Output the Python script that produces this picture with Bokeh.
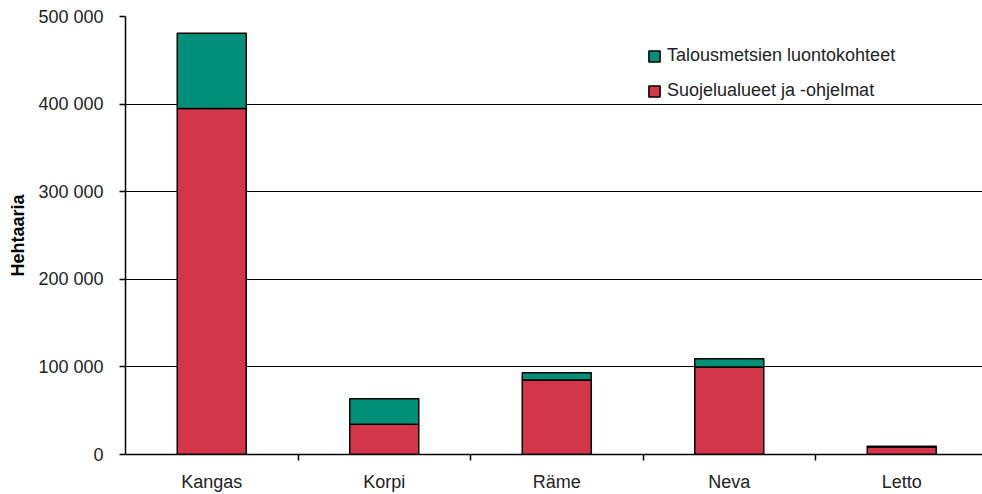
from bokeh.plotting import figure
from bokeh.models import (ColumnDataSource, Range1d, FixedTicker, Legend, LegendItem)
from bokeh.embed import file_html
from bokeh.resources import INLINE

categories = ["Kangas", "Korpi", "Räme", "Neva", "Letto"]
suojelu = [395000, 34600, 85000, 100000, 8500]
talous = [86000, 29000, 8400, 9400, 1000]
y_ticks = [0, 100000, 200000, 300000, 400000, 500000]
y_tick_labels = ["0", "100 000", "200 000", "300 000", "400 000", "500 000"]

series_names = ["Suojelualueet ja -ohjelmat", "Talousmetsien luontokohteet"]
colors = ["#D43649", "#00907A"]

FONT = "Liberation Sans"

x_pos = [i + 0.5 for i in range(len(categories))]
src = ColumnDataSource(dict(x=x_pos, suojelu=suojelu, talous=talous))

p = figure(width=982, height=494, output_backend="svg", toolbar_location=None,
           x_range=Range1d(0, 4.968), y_range=Range1d(0, 500000),
           min_border_left=125, min_border_right=0, min_border_top=16,
           min_border_bottom=40)

rs = p.vbar_stack(["suojelu", "talous"], x="x", width=0.4, source=src,
                  fill_color=colors, line_color="black", line_width=1.5)

p.outline_line_color = None
p.background_fill_color = "white"
p.border_fill_color = "white"

# grid
p.xgrid.grid_line_color = None
p.ygrid.grid_line_color = "black"
p.ygrid.grid_line_width = 1
p.ygrid.ticker = FixedTicker(ticks=y_ticks)

# y axis
p.yaxis.ticker = FixedTicker(ticks=y_ticks)
p.yaxis.major_label_overrides = {t: l for t, l in zip(y_ticks, y_tick_labels)}
p.yaxis.axis_label = "Hehtaaria"
p.yaxis.axis_label_text_font = FONT
p.yaxis.axis_label_text_font_style = "bold"
p.yaxis.axis_label_text_font_size = "18px"
p.yaxis.axis_label_text_color = "black"
p.yaxis.axis_label_standoff = 7
p.yaxis.major_label_text_font = FONT
p.yaxis.major_label_text_font_size = "18px"
p.yaxis.major_label_text_color = "#222222"
p.yaxis.major_label_standoff = 16
p.yaxis.major_tick_out = 6
p.yaxis.major_tick_in = 0
p.yaxis.minor_tick_line_color = None
p.yaxis.axis_line_color = "black"
p.yaxis.axis_line_width = 1.5
p.yaxis.major_tick_line_color = "black"
p.yaxis.major_tick_line_width = 1.5

# x axis
bounds = [i for i in range(1, len(categories))]
p.xaxis.ticker = FixedTicker(ticks=x_pos, minor_ticks=bounds)
p.xaxis.major_label_overrides = {x: c for x, c in zip(x_pos, categories)}
p.xaxis.major_label_text_font = FONT
p.xaxis.major_label_text_font_size = "18px"
p.xaxis.major_label_text_color = "#222222"
p.xaxis.major_label_standoff = 11
p.xaxis.major_tick_out = 0
p.xaxis.major_tick_in = 0
p.xaxis.minor_tick_out = 6
p.xaxis.minor_tick_in = 0
p.xaxis.minor_tick_line_color = "black"
p.xaxis.minor_tick_line_width = 1.5
p.xaxis.axis_line_color = "black"
p.xaxis.axis_line_width = 1.5

legend = Legend(items=[LegendItem(label=series_names[1], renderers=[rs[1]]),
                       LegendItem(label=series_names[0], renderers=[rs[0]])],
                location=(522, 353))
legend.border_line_color = None
legend.background_fill_alpha = 0
legend.padding = 0
legend.margin = 0
legend.spacing = 14
legend.glyph_width = 14
legend.glyph_height = 14
legend.label_height = 20
legend.label_standoff = 6
legend.label_text_font = FONT
legend.label_text_font_size = "18px"
legend.label_text_color = "#222222"
p.add_layout(legend, "center")

open("out.html", "w").write(file_html(p, INLINE))
